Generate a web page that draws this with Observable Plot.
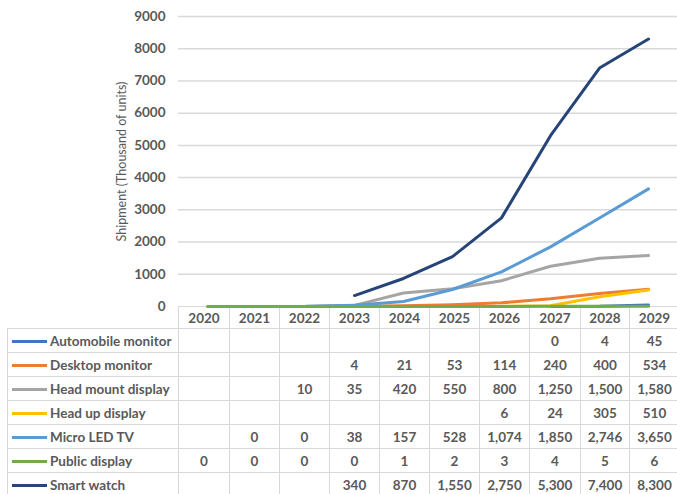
<!DOCTYPE html>
<html><head><meta charset="utf-8">
<script src="https://cdn.jsdelivr.net/npm/d3@7"></script>
<script src="https://cdn.jsdelivr.net/npm/@observablehq/plot@0.6"></script>
<style>
body{margin:0;background:#fff;font-family:Lato,sans-serif;}
#wrap{position:relative;width:677px;height:494px;overflow:hidden;background:#fff}
#chart{position:absolute;left:0;top:0;z-index:2}
table{position:absolute;left:7px;top:306px;z-index:1;border-collapse:collapse;table-layout:fixed;color:#595959;font-size:13.5px;font-weight:bold;font-family:Lato,sans-serif;background:transparent}
td{border:1.5px solid #d9d9d9;text-align:center;padding:0;height:23px;white-space:nowrap;overflow:hidden}
tr.head td{height:21px}
td.name{text-align:left;padding-left:4px}
.key{display:inline-block;width:35px;height:3px;vertical-align:middle;margin-right:3px;position:relative;top:-1px}
</style></head><body>
<div id="wrap"><div id="chart"></div><table id="tbl"></table></div>
<script>
const years = [2020, 2021, 2022, 2023, 2024, 2025, 2026, 2027, 2028, 2029];
const seriesNames = ["Automobile monitor", "Desktop monitor", "Head mount display", "Head up display", "Micro LED TV", "Public display", "Smart watch"];
const seriesColors = ["#4472C4", "#ED7D31", "#A5A5A5", "#FFC000", "#5B9BD5", "#70AD47", "#264478"];
const automobileMonitor = [null, null, null, null, null, null, null, 0, 4, 45];
const desktopMonitor    = [null, null, null, 4, 21, 53, 114, 240, 400, 534];
const headMountDisplay  = [null, null, 10, 35, 420, 550, 800, 1250, 1500, 1580];
const headUpDisplay     = [null, null, null, null, null, null, 6, 24, 305, 510];
const microLedTv        = [null, 0, 0, 38, 157, 528, 1074, 1850, 2746, 3650];
const publicDisplay     = [0, 0, 0, 0, 1, 2, 3, 4, 5, 6];
const smartWatch        = [null, null, null, 340, 870, 1550, 2750, 5300, 7400, 8300];
const yTicks = [0, 1000, 2000, 3000, 4000, 5000, 6000, 7000, 8000, 9000];
const yLabel = "Shipment (Thousand of units)";

const seriesValues = [automobileMonitor, desktopMonitor, headMountDisplay, headUpDisplay, microLedTv, publicDisplay, smartWatch];
const rows = [];
seriesNames.forEach((s, i) => seriesValues[i].forEach((v, j) => { if (v !== null) rows.push({series: s, year: years[j], value: v}); }));

const chart = Plot.plot({
  width: 677, height: 322,
  marginLeft: 178, marginRight: 0, marginTop: 16, marginBottom: 16,
  x: {type: "point", domain: years, padding: 0.5, axis: null},
  y: {domain: [0, 9000], axis: null},
  color: {domain: seriesNames, range: seriesColors},
  style: {fontFamily: "Lato, sans-serif", fontSize: "13.5px", fontWeight: "bold", color: "#595959", background: "transparent"},
  marks: [
    Plot.ruleY(yTicks.filter(d => d > 0), {stroke: "#d9d9d9", strokeWidth: 1.5}),
    Plot.axisY({ticks: yTicks, tickSize: 0, tickPadding: 13, tickFormat: d => String(d), fontSize: 13.5, fill: "#595959", label: null}),
    Plot.line(rows, {x: "year", y: "value", z: "series", stroke: "series", strokeWidth: 3, strokeLinecap: "round", strokeLinejoin: "round"}),
    Plot.text([yLabel], {frameAnchor: "left", textAnchor: "middle", dx: -57, rotate: -90, text: d => d, fontSize: 12.5, fontWeight: "normal", fill: "#595959"})
  ]
});
document.getElementById("chart").appendChild(chart);

const fmt = d3.format(",");
const colWidths = [171, 51, 50, 50, 50, 50, 50, 50, 51, 49, 50];
const tbl = d3.select("#tbl").style("width", d3.sum(colWidths) + "px");
tbl.append("colgroup").selectAll("col").data(colWidths).join("col").style("width", d => d + "px");
const head = tbl.append("tr").attr("class", "head");
head.append("td").style("border", "none");
years.forEach(y => head.append("td").text(y));
seriesNames.forEach((s, i) => {
  const tr = tbl.append("tr");
  const c = tr.append("td").attr("class", "name");
  c.append("span").attr("class", "key").style("background", seriesColors[i]);
  c.append("span").text(s);
  seriesValues[i].forEach(v => tr.append("td").text(v === null ? "" : fmt(v)));
});
</script>
</body></html>
